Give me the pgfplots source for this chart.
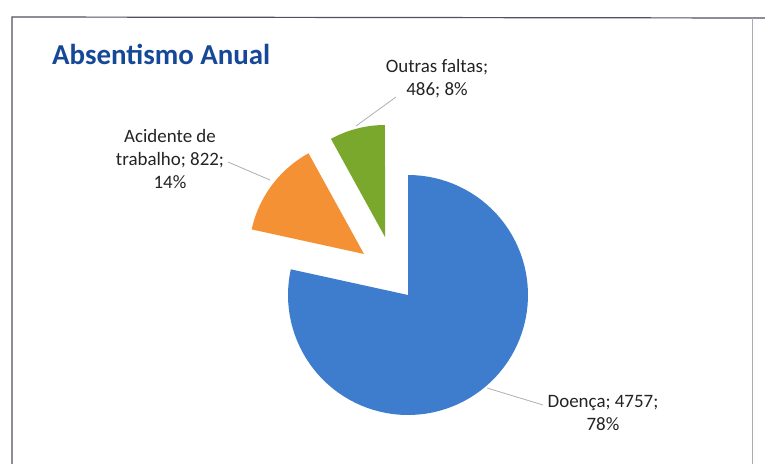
\documentclass[border=0pt]{standalone}
\usepackage{pgfplots}
\usepackage{pgfplotstable}
\pgfplotsset{compat=1.18}
\usepackage{fontspec}
\setmainfont{Carlito}
\definecolor{cBlue}{RGB}{62,125,205}
\definecolor{cOrange}{RGB}{244,145,52}
\definecolor{cGreen}{RGB}{122,168,45}
\definecolor{cTitle}{RGB}{22,72,152}
\definecolor{cText}{RGB}{35,35,35}
\definecolor{cFrame}{RGB}{80,80,100}
\definecolor{cFrameR}{RGB}{170,170,180}
\definecolor{cLeader}{RGB}{175,175,175}
% category, value, centre x, centre y (pixels), radius
\pgfplotstableread{
name value cx cy r
Doenca 4757 408 295 120
Acidente 822 364 254 115
Outras 486 385 237 112
}\piedata
\pgfplotstablegetelem{0}{value}\of\piedata \let\vA\pgfplotsretval
\pgfplotstablegetelem{1}{value}\of\piedata \let\vB\pgfplotsretval
\pgfplotstablegetelem{2}{value}\of\piedata \let\vC\pgfplotsretval
\pgfmathsetmacro{\vTot}{\vA+\vB+\vC}
\pgfmathsetmacro{\fA}{\vA/\vTot}
\pgfmathsetmacro{\fB}{\vB/\vTot}
\pgfmathsetmacro{\fC}{\vC/\vTot}
\pgfmathsetmacro{\aA}{90}
\pgfmathsetmacro{\aB}{90-360*\fA}
\pgfmathsetmacro{\aC}{\aB-360*\fB}
\pgfmathsetmacro{\aD}{\aC-360*\fC}
\begin{document}
\begin{tikzpicture}
\begin{axis}[
  width=765bp, height=464bp, scale only axis,
  xmin=0, xmax=765, ymin=0, ymax=464, y dir=reverse,
  hide axis, clip=false,
]
% frame
\draw[cFrame, line width=1.2pt] (12,464) -- (12,17) -- (765,18);
\draw[cFrameR, line width=0.8pt] (752,18) -- (752,464);
% slices
\addplot[fill=cBlue, draw=none, domain=\aB:\aA, samples=90, variable=\t]
  ({408+120*cos(\t)},{295-120*sin(\t)}) -- (408,295) -- cycle;
\addplot[fill=cOrange, draw=none, domain=\aC:\aB, samples=30, variable=\t]
  ({364+115*cos(\t)},{254-115*sin(\t)}) -- (364,254) -- cycle;
\addplot[fill=cGreen, draw=none, domain=\aD:\aC, samples=20, variable=\t]
  ({385+112*cos(\t)},{237-112*sin(\t)}) -- (385,237) -- cycle;
% leader lines
\draw[cLeader, line width=0.8pt] (396,97) -- (356,126);
\draw[cLeader, line width=0.8pt] (228,162) -- (270,180);
\draw[cLeader, line width=0.8pt] (487,388) -- (543,405);
% title
\node[anchor=base west, inner sep=0pt, text=cTitle, font=\bfseries\fontsize{29}{35}\selectfont] at (52,65) {Absentismo Anual};
% labels
\node[align=center, text=cText, font=\fontsize{19}{23}\selectfont] at (437,79) {Outras faltas;\\486; 8\%};
\node[align=center, text=cText, font=\fontsize{19}{23}\selectfont] at (170,159) {Acidente de\\trabalho; 822;\\14\%};
\node[align=center, text=cText, font=\fontsize{19}{23}\selectfont] at (603,413) {Doença; 4757;\\78\%};
\end{axis}
\pgfresetboundingbox
\path (0,0) rectangle (765bp,464bp);
\end{tikzpicture}
\end{document}
